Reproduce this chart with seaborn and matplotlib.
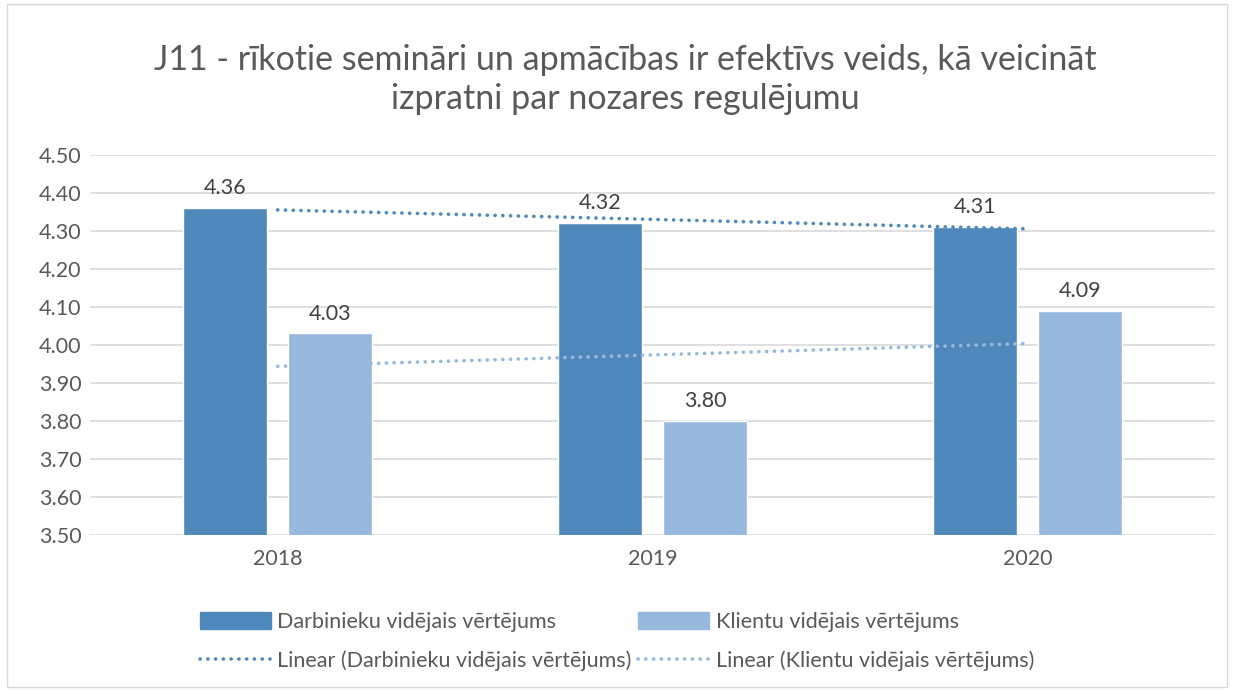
import numpy as np
import pandas as pd
import seaborn as sns
import matplotlib.pyplot as plt
from matplotlib.patches import Rectangle
from matplotlib.lines import Line2D

years = ["2018", "2019", "2020"]
darbinieki = [4.36, 4.32, 4.31]
klienti = [4.03, 3.80, 4.09]
series_names = ["Darbinieku vidējais vērtējums", "Klientu vidējais vērtējums"]
colors = ["#4F88BB", "#98B9DE"]

df = pd.DataFrame({
    "year": years * 2,
    "value": darbinieki + klienti,
    "series": [series_names[0]] * 3 + [series_names[1]] * 3,
})

sns.set_style("white")
plt.rcParams["font.family"] = ["Lato", "DejaVu Sans"]
text_col = "#595959"
dots = (0, (0.05, 2.1))

fig = plt.figure(figsize=(12.34, 6.91), dpi=100)
ax = fig.add_axes([0.073, 0.226, 0.912, 0.55])

sns.barplot(data=df, x="year", y="value", hue="series", palette=colors,
            width=0.56, gap=0.2, ax=ax, legend=False, saturation=1)

ax.set_ylim(3.5, 4.5)
ax.set_xlim(-0.5, 2.5)
ax.set_yticks(np.arange(3.5, 4.51, 0.1))
ax.set_yticklabels([f"{v:.2f}" for v in np.arange(3.5, 4.51, 0.1)])
ax.grid(axis="y", color="#D9D9D9", lw=1.2)
ax.set_axisbelow(True)
for s in ax.spines.values():
    s.set_visible(False)
ax.tick_params(axis="both", length=0, labelsize=15.5, colors=text_col)
ax.tick_params(axis="x", pad=10)
ax.tick_params(axis="y", pad=6)
ax.set_xlabel("")
ax.set_ylabel("")

# value labels
for cont in ax.containers:
    ax.bar_label(cont, fmt="%.2f", padding=7, fontsize=15.5, color="#404040")

# linear trendlines
xs = np.arange(len(years))
for vals, c in zip([darbinieki, klienti], colors):
    k, b = np.polyfit(xs, vals, 1)
    ax.plot([0, 2], [b, 2 * k + b], ls=dots, color=c, lw=2.6,
            dash_capstyle="round")

fig.text(0.507, 0.885, "J11 - rīkotie semināri un apmācības ir efektīvs veids, kā veicināt\nizpratni par nozares regulējumu",
         ha="center", va="center", fontsize=24.5, color=text_col, linespacing=1.3)

handles = [
    Rectangle((0, 0), 1, 1, color=colors[0]),
    Line2D([], [], color=colors[0], ls=dots, lw=2.6, dash_capstyle="round"),
    Rectangle((0, 0), 1, 1, color=colors[1]),
    Line2D([], [], color=colors[1], ls=dots, lw=2.6, dash_capstyle="round"),
]
labels = [series_names[0], "Linear (" + series_names[0] + ")",
          series_names[1], "Linear (" + series_names[1] + ")"]
fig.legend(handles, labels, loc="center", bbox_to_anchor=(0.5, 0.072), ncol=2,
           frameon=False, fontsize=15.5, labelcolor=text_col, handlelength=3.3,
           handleheight=0.8, columnspacing=0.3, labelspacing=0.85, handletextpad=0.3)

fig.patches.append(Rectangle((0.006, 0.006), 0.988, 0.988, transform=fig.transFigure,
                             fill=False, edgecolor="#D9D9D9", lw=1))

fig.savefig("out.png", dpi=100)
